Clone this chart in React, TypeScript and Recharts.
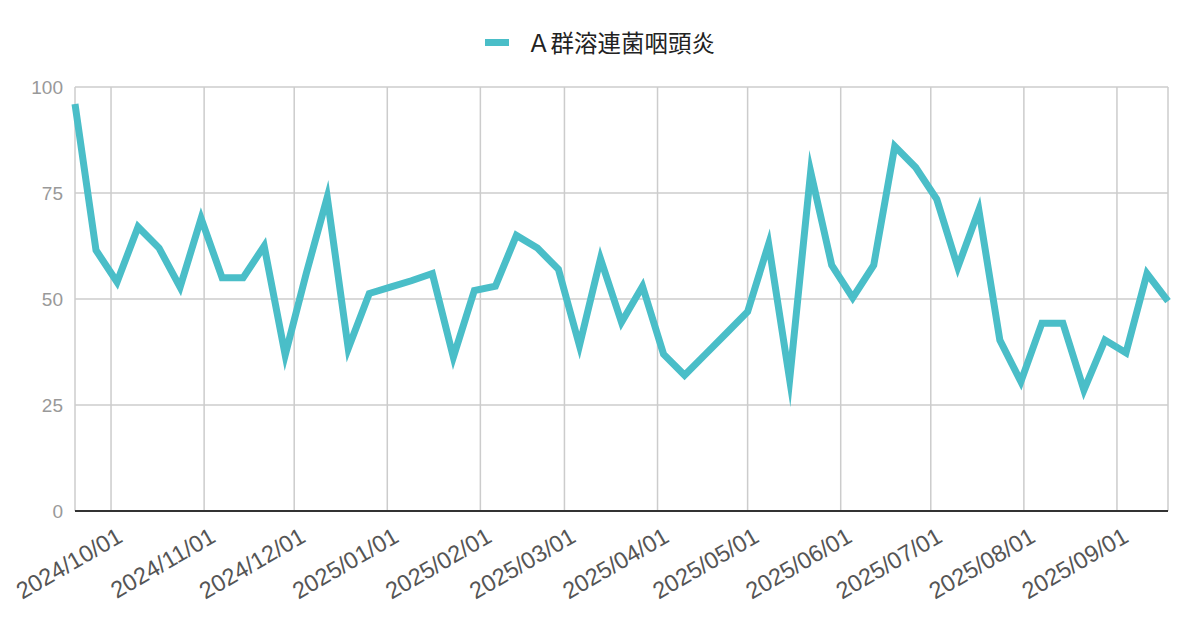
import {
  LineChart,
  Line,
  XAxis,
  YAxis,
  CartesianGrid,
  Legend,
} from 'recharts';

// weekly reporting dates (Thursdays)
const weekDates = [
  '2024-09-19', '2024-09-26', '2024-10-03', '2024-10-10', '2024-10-17', '2024-10-24',
  '2024-10-31', '2024-11-07', '2024-11-14', '2024-11-21', '2024-11-28', '2024-12-05',
  '2024-12-12', '2024-12-19', '2024-12-26', '2025-01-02', '2025-01-09', '2025-01-16',
  '2025-01-23', '2025-01-30', '2025-02-06', '2025-02-13', '2025-02-20', '2025-02-27',
  '2025-03-06', '2025-03-13', '2025-03-20', '2025-03-27', '2025-04-03', '2025-04-10',
  '2025-04-17', '2025-04-24', '2025-05-01', '2025-05-08', '2025-05-15', '2025-05-22',
  '2025-05-29', '2025-06-05', '2025-06-12', '2025-06-19', '2025-06-26', '2025-07-03',
  '2025-07-10', '2025-07-17', '2025-07-24', '2025-07-31', '2025-08-07', '2025-08-14',
  '2025-08-21', '2025-08-28', '2025-09-04', '2025-09-11', '2025-09-18',
];

const strepCases = [
  96, 61.5, 54, 67, 62, 52.8, 69, 55, 55, 62.5, 36.8, 56,
  74, 38.3, 51.3, 52.8, 54.3, 56, 36.3, 52, 53, 65, 62, 57,
  39, 59.5, 44.5, 53, 37, 32, 37, 42, 47, 63, 31, 80,
  58, 50.3, 58, 86, 81, 73.5, 57.5, 71, 40.3, 30.5, 44.3, 44.3,
  28.5, 40.3, 37.3, 56, 49.5,
];

const monthTicks = [
  '2024-10-01', '2024-11-01', '2024-12-01', '2025-01-01', '2025-02-01', '2025-03-01',
  '2025-04-01', '2025-05-01', '2025-06-01', '2025-07-01', '2025-08-01', '2025-09-01',
];

const yTicks = [0, 25, 50, 75, 100];

const seriesName = 'Ａ群溶連菌咽頭炎';
const lineColor = '#4abec8';

const data = weekDates.map((d, i) => ({ t: Date.parse(d), value: strepCases[i] }));
const xTicks = monthTicks.map(d => Date.parse(d));

const pad = (n: number) => String(n).padStart(2, '0');
const fmtDate = (v: number) => {
  const d = new Date(v);
  return `${d.getUTCFullYear()}/${pad(d.getUTCMonth() + 1)}/${pad(d.getUTCDate())}`;
};

const DateTick = ({ x, y, payload }: any) => (
  <g transform={`translate(${x + 13},${y + 30})`}>
    <text textAnchor="end" transform="rotate(-30)" fontSize={23.5} fill="#555">
      {fmtDate(payload.value)}
    </text>
  </g>
);

const LegendBox = ({ payload }: any) => (
  <div
    style={{
      display: 'flex',
      justifyContent: 'center',
      alignItems: 'center',
      height: 30,
    }}
  >
    {(payload || []).map((p: any) => (
      <div key={p.value} style={{ display: 'flex', alignItems: 'center' }}>
        <span style={{ width: 24, height: 7, background: p.color, marginRight: 18 }} />
        <span style={{ fontSize: 23.5, color: '#222', fontFamily: '"Noto Sans CJK JP", sans-serif' }}>
          {p.value}
        </span>
      </div>
    ))}
  </div>
);

const App = () => {
  return (
    <div style={{ width: 1200, height: 626 }}>
      <style>{'body{margin:0}'}</style>
      <LineChart
        width={1200}
        height={626}
        data={data}
        margin={{ top: 57, right: 32, bottom: 0, left: 0 }}
        style={{ fontFamily: '"Liberation Sans", Arial, sans-serif' }}
      >
        <CartesianGrid stroke="#cccccc" strokeWidth={1.5} />
        <XAxis
          dataKey="t"
          type="number"
          scale="time"
          domain={[data[0].t, data[data.length - 1].t]}
          ticks={xTicks}
          interval={0}
          height={115}
          tick={<DateTick />}
          tickLine={false}
          tickSize={0}
          tickMargin={0}
          axisLine={{ stroke: '#333', strokeWidth: 2 }}
        />
        <YAxis
          domain={[0, 100]}
          ticks={yTicks}
          width={75}
          axisLine={false}
          tickLine={false}
          tickSize={0}
          tickMargin={12}
          tick={{ fill: '#999', fontSize: 19 }}
        />
        <Legend
          verticalAlign="top"
          content={<LegendBox />}
          wrapperStyle={{ top: 27, left: 0, width: 1200 }}
        />
        <Line
          type="linear"
          dataKey="value"
          name={seriesName}
          stroke={lineColor}
          strokeWidth={7}
          strokeMiterlimit={10}
          dot={false}
          activeDot={false}
          isAnimationActive={false}
        />
      </LineChart>
    </div>
  );
};

export default App;
